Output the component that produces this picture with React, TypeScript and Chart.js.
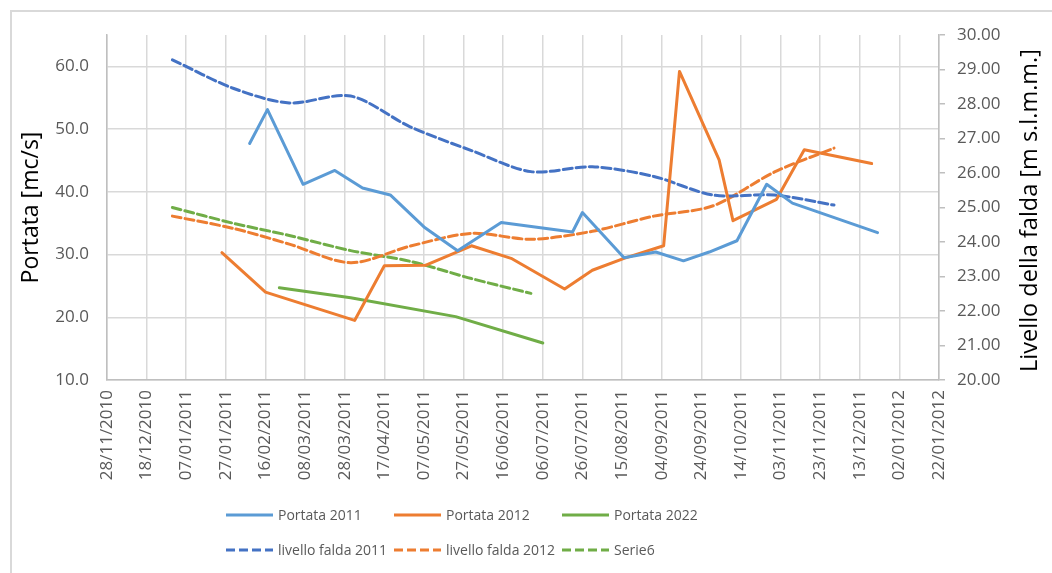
import React, { useEffect, useRef } from 'react';
import { Chart, registerables } from 'chart.js';

Chart.register(...registerables);

const FONT = '"Open Sans", "Noto Sans", sans-serif';

// x axis: days counted from 28/11/2010, tick every 20 days up to 22/01/2012
const ORIGIN = Date.UTC(2010, 10, 28);
const X_MAX_DAYS = 420;
const X_STEP_DAYS = 20;

const LEFT_MIN = 10;
const LEFT_MAX = 65;
const LEFT_STEP = 10;
const RIGHT_MIN = 20;
const RIGHT_MAX = 30;
const RIGHT_STEP = 1;

const LEFT_TITLE = 'Portata [mc/s]';
const RIGHT_TITLE = 'Livello della falda [m s.l.m.m.]';

const portata2011Dates = ['2011-02-08', '2011-02-17', '2011-03-07', '2011-03-23', '2011-04-06', '2011-04-20', '2011-05-07', '2011-05-24', '2011-06-15', '2011-07-21', '2011-07-26', '2011-08-16', '2011-09-01', '2011-09-15', '2011-09-28', '2011-10-12', '2011-10-27', '2011-11-09', '2011-12-22'];
const portata2011Values = [47.7, 53.1, 41.2, 43.4, 40.6, 39.5, 34.4, 30.6, 35.1, 33.6, 36.7, 29.5, 30.4, 29.0, 30.4, 32.2, 41.2, 38.2, 33.5];

const portata2012Dates = ['2011-01-25', '2011-02-16', '2011-04-02', '2011-04-17', '2011-05-08', '2011-05-31', '2011-06-20', '2011-07-17', '2011-07-31', '2011-08-16', '2011-09-05', '2011-09-13', '2011-10-03', '2011-10-10', '2011-11-01', '2011-11-15', '2011-12-19'];
const portata2012Values = [30.3, 24.0, 19.5, 28.2, 28.3, 31.4, 29.4, 24.5, 27.5, 29.4, 31.4, 59.2, 45.1, 35.4, 38.8, 46.7, 44.5];

const portata2022Dates = ['2011-02-23', '2011-03-31', '2011-05-23', '2011-07-06'];
const portata2022Values = [24.7, 23.1, 20.1, 15.9];

const monthEndDates = ['2010-12-31', '2011-01-31', '2011-02-28', '2011-03-31', '2011-04-30', '2011-05-31', '2011-06-30', '2011-07-31', '2011-08-31', '2011-09-30', '2011-10-31', '2011-11-30'];
const livello2011Values = [29.28, 28.45, 28.03, 28.23, 27.34, 26.65, 26.04, 26.18, 25.9, 25.36, 25.36, 25.07];
const livello2012Values = [24.75, 24.39, 23.94, 23.4, 23.88, 24.25, 24.08, 24.31, 24.75, 25.05, 26.03, 26.72];
const serie6Values = [25.0, 24.54, 24.19, 23.75, 23.44, 22.94, 22.51];

const BLUE_LIGHT = '#5B9BD5';
const BLUE_DARK = '#4472C4';
const ORANGE = '#ED7D31';
const GREEN = '#70AD47';
const DASH = [9, 4];

function dayOf(s: string): number {
  const [y, m, d] = s.split('-').map(Number);
  return Math.round((Date.UTC(y, m - 1, d) - ORIGIN) / 86400000);
}

function fmtDay(day: number): string {
  const dt = new Date(ORIGIN + day * 86400000);
  const dd = String(dt.getUTCDate()).padStart(2, '0');
  const mm = String(dt.getUTCMonth() + 1).padStart(2, '0');
  return `${dd}/${mm}/${dt.getUTCFullYear()}`;
}

function pts(dates: string[], values: number[]) {
  return values.map((v, i) => ({ x: dayOf(dates[i]), y: v }));
}

const seriesDefs = [
  { label: 'Portata 2011', color: BLUE_LIGHT, dashed: false, axis: 'y', data: pts(portata2011Dates, portata2011Values) },
  { label: 'Portata 2012', color: ORANGE, dashed: false, axis: 'y', data: pts(portata2012Dates, portata2012Values) },
  { label: 'Portata 2022', color: GREEN, dashed: false, axis: 'y', data: pts(portata2022Dates, portata2022Values) },
  { label: 'livello falda 2011', color: BLUE_DARK, dashed: true, axis: 'y1', data: pts(monthEndDates, livello2011Values) },
  { label: 'livello falda 2012', color: ORANGE, dashed: true, axis: 'y1', data: pts(monthEndDates, livello2012Values) },
  { label: 'Serie6', color: GREEN, dashed: true, axis: 'y1', data: pts(monthEndDates, serie6Values) },
];

const rightTitlePlugin = {
  id: 'rightTitle',
  afterDraw(chart: any) {
    const { ctx, chartArea } = chart;
    const scale = chart.scales.y1;
    ctx.save();
    ctx.translate(scale.right - 22, (chartArea.top + chartArea.bottom) / 2 + 3);
    ctx.rotate(-Math.PI / 2);
    ctx.font = `23.5px ${FONT}`;
    ctx.fillStyle = '#000000';
    ctx.textAlign = 'center';
    ctx.textBaseline = 'middle';
    ctx.fillText(RIGHT_TITLE, 0, 0);
    ctx.restore();
  },
};

function Legend() {
  return (
    <div
      style={{
        position: 'absolute',
        left: 226,
        top: 497,
        display: 'grid',
        gridTemplateColumns: '168px 168px 168px',
        fontFamily: FONT,
      }}
    >
      {seriesDefs.map((s) => (
        <div key={s.label} style={{ display: 'flex', alignItems: 'center', height: 35, whiteSpace: 'nowrap' }}>
          <svg width={47} height={4} style={{ display: 'block' }}>
            <line
              x1={0}
              y1={2}
              x2={47}
              y2={2}
              stroke={s.color}
              strokeWidth={3}
              strokeDasharray={s.dashed ? DASH.join(' ') : undefined}
            />
          </svg>
          <span style={{ marginLeft: 5, fontSize: 14, color: '#595959', lineHeight: '20px' }}>{s.label}</span>
        </div>
      ))}
    </div>
  );
}

export default function App() {
  const ref = useRef<HTMLCanvasElement>(null);

  useEffect(() => {
    if (!ref.current) return;
    const tickFont = { family: FONT, size: 17 };
    const chart = new Chart(ref.current, {
      type: 'line',
      data: {
        datasets: seriesDefs.map((s) => ({
          label: s.label,
          data: s.data,
          yAxisID: s.axis,
          borderColor: s.color,
          backgroundColor: s.color,
          borderWidth: 3,
          borderDash: s.dashed ? DASH : [],
          pointRadius: 0,
          tension: s.dashed ? 0.3 : 0,
          fill: false,
          borderCapStyle: 'round' as const,
          borderJoinStyle: 'round' as const,
        })),
      },
      options: {
        animation: false,
        responsive: false,
        maintainAspectRatio: false,
        layout: { padding: { left: 0, right: 0, top: 35, bottom: 0 } },
        plugins: { legend: { display: false }, tooltip: { enabled: false } },
        scales: {
          x: {
            type: 'linear',
            min: 0,
            max: X_MAX_DAYS,
            ticks: {
              stepSize: X_STEP_DAYS,
              autoSkip: false,
              maxRotation: 90,
              minRotation: 90,
              padding: 10,
              color: '#595959',
              font: tickFont,
              callback: (v: any) => fmtDay(Number(v)),
            },
            grid: { color: '#d9d9d9', lineWidth: 1.5, drawTicks: false },
            border: { color: '#bfbfbf', width: 1.5 },
            afterFit: (s: any) => {
              s.height = 193;
            },
          },
          y: {
            type: 'linear',
            position: 'left',
            min: LEFT_MIN,
            max: LEFT_MAX,
            ticks: {
              stepSize: LEFT_STEP,
              includeBounds: false,
              padding: 18,
              color: '#595959',
              font: tickFont,
              callback: (v: any) => Number(v).toFixed(1),
            },
            grid: { color: '#d9d9d9', lineWidth: 1.5, drawTicks: false },
            border: { color: '#bfbfbf', width: 1.5 },
            title: {
              display: true,
              text: LEFT_TITLE,
              color: '#000000',
              font: { family: FONT, size: 23 },
              padding: { top: 18, bottom: 0 },
            },
            afterFit: (s: any) => {
              s.width = 107;
            },
          },
          y1: {
            type: 'linear',
            position: 'right',
            min: RIGHT_MIN,
            max: RIGHT_MAX,
            ticks: {
              stepSize: RIGHT_STEP,
              padding: 12,
              color: '#595959',
              font: tickFont,
              callback: (v: any) => Number(v).toFixed(2),
            },
            grid: { drawOnChartArea: false, drawTicks: true, tickLength: 6, color: '#bfbfbf', lineWidth: 1.5 },
            border: { color: '#bfbfbf', width: 1.5 },
            afterFit: (s: any) => {
              s.width = 113;
            },
          },
        },
      } as any,
      plugins: [rightTitlePlugin],
    });
    return () => chart.destroy();
  }, []);

  return (
    <div
      style={{
        position: 'fixed',
        left: 0,
        top: 0,
        width: 1052,
        height: 573,
        background: '#ffffff',
        overflow: 'hidden',
      }}
    >
      <div
        style={{
          position: 'absolute',
          left: 10,
          top: 10,
          width: 1100,
          height: 620,
          border: '2px solid #d9d9d9',
          boxSizing: 'border-box',
        }}
      />
      <canvas ref={ref} width={1052} height={573} style={{ position: 'absolute', left: 0, top: 0, width: 1052, height: 573 }} />
      <Legend />
    </div>
  );
}
